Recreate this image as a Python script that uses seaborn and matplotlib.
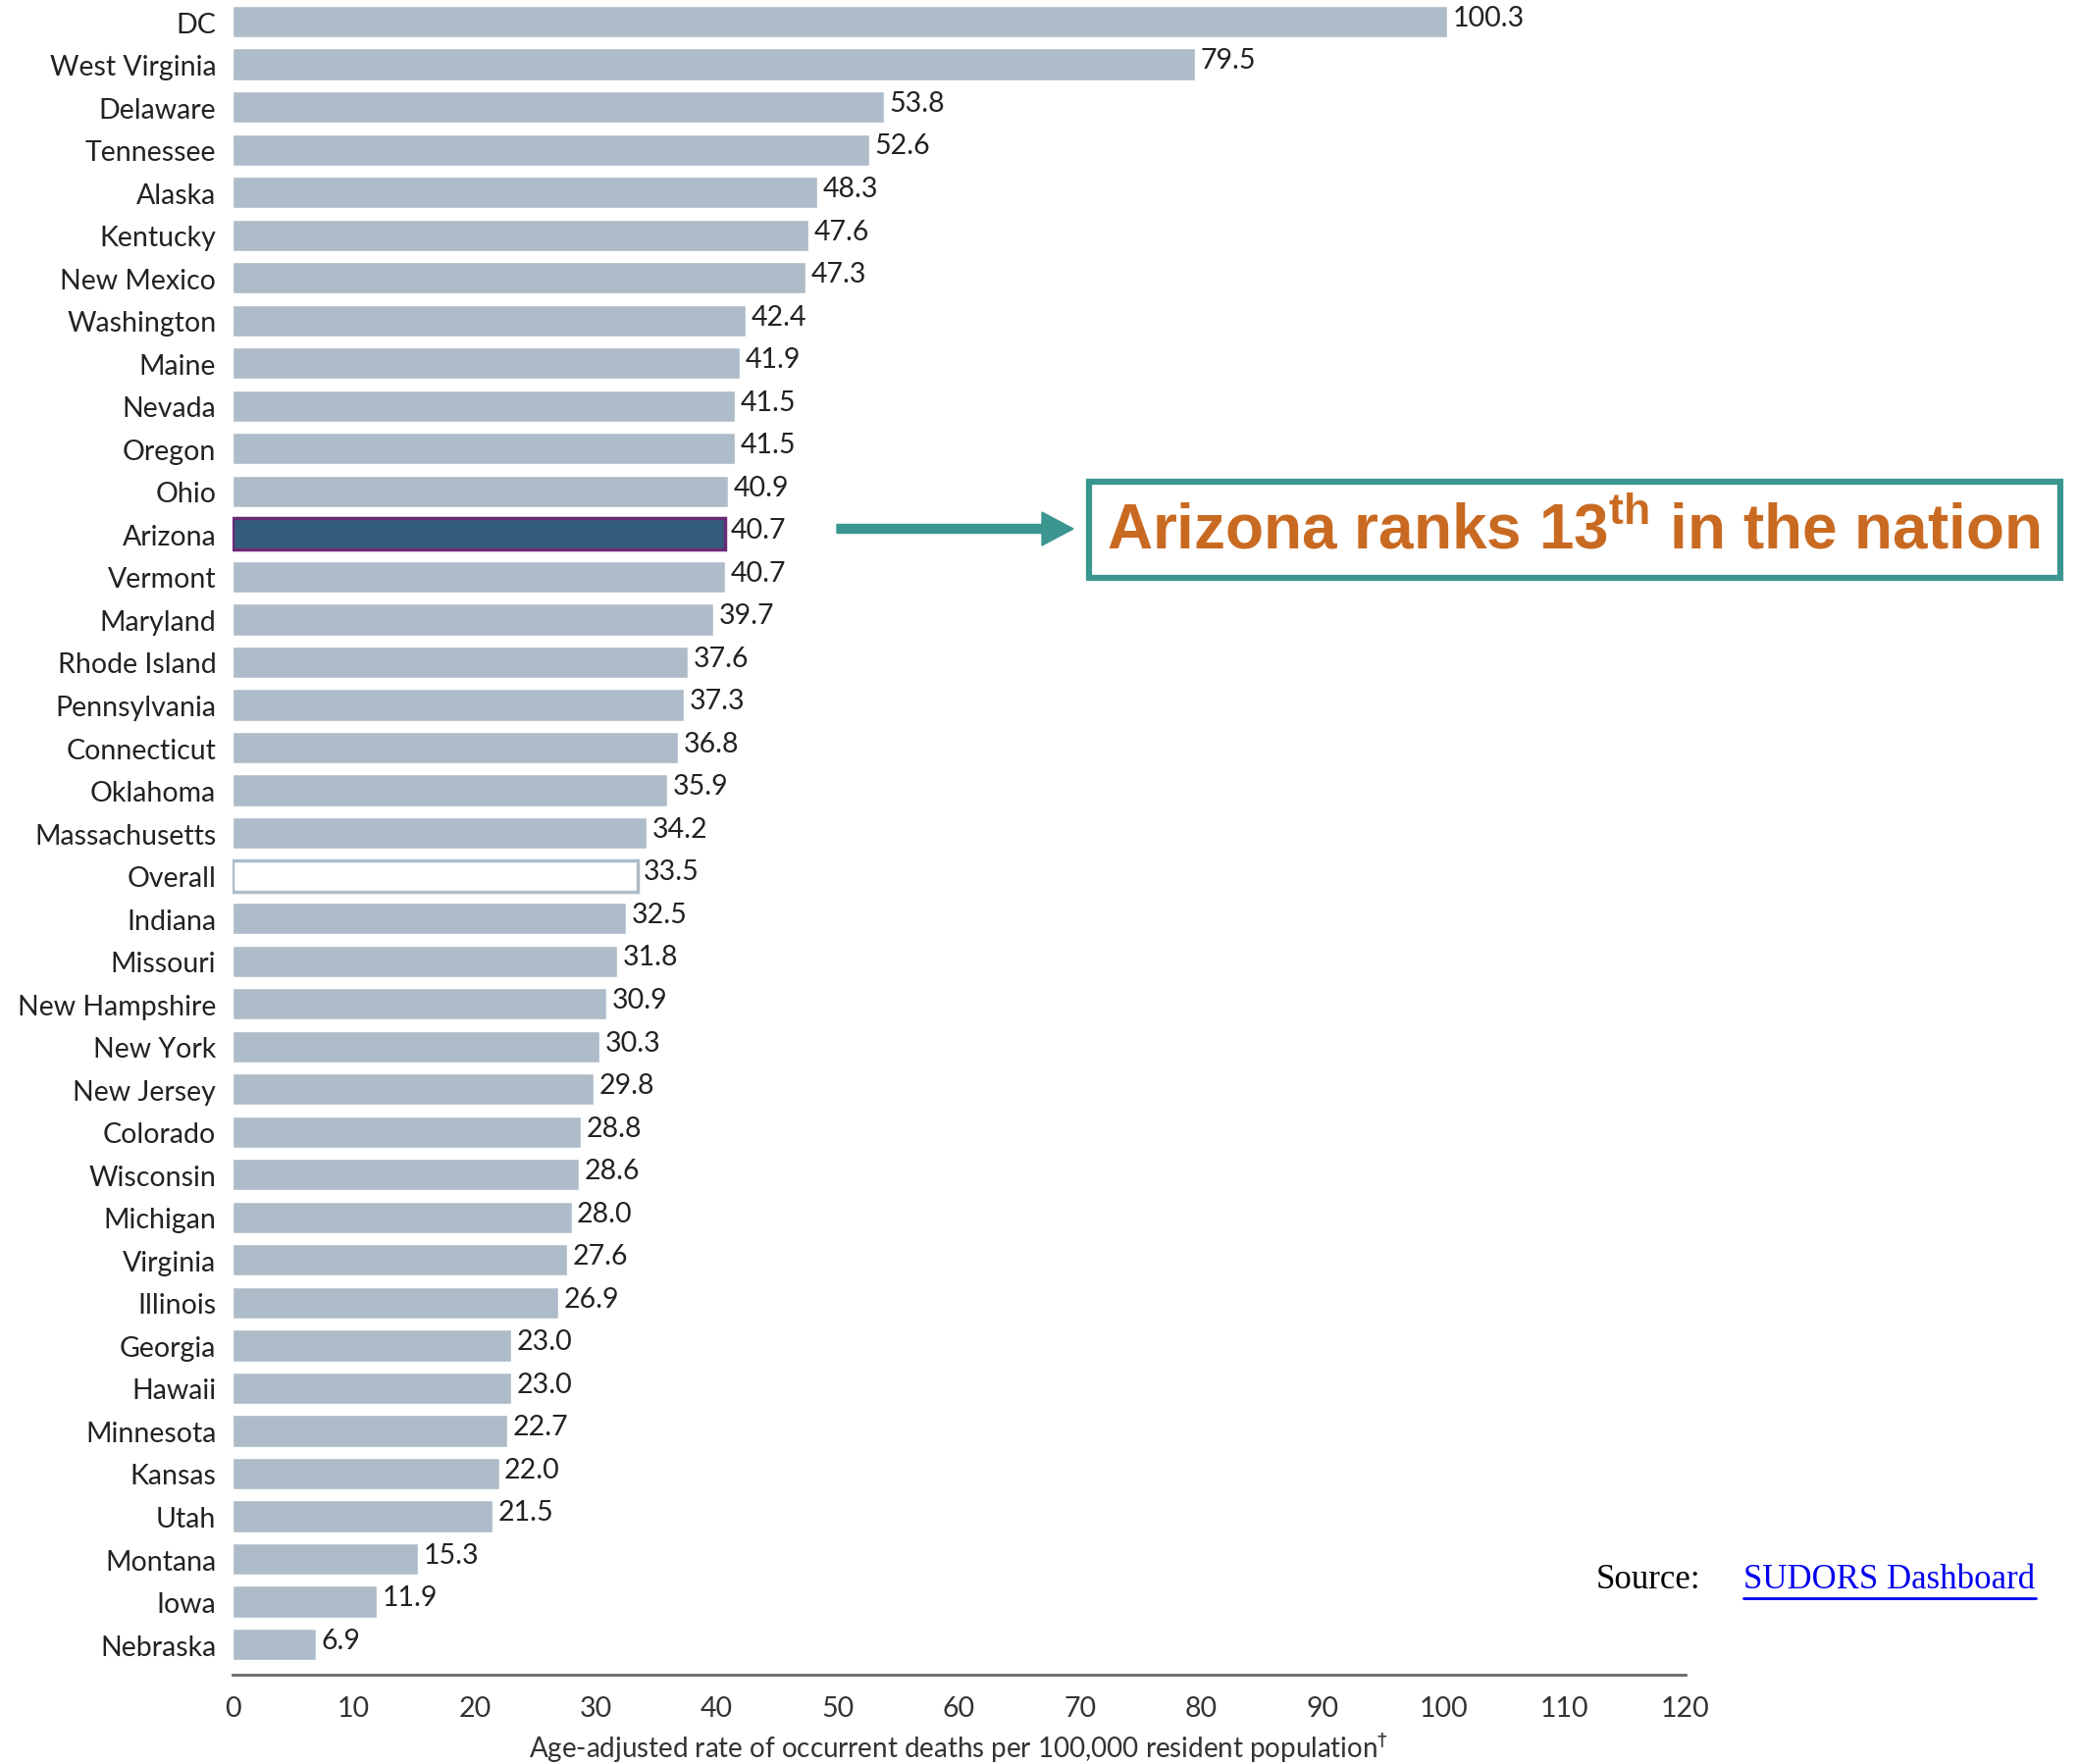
import seaborn as sns
import matplotlib.pyplot as plt
import pandas as pd

states = ['DC', 'West Virginia', 'Delaware', 'Tennessee', 'Alaska', 'Kentucky',
          'New Mexico', 'Washington', 'Maine', 'Nevada', 'Oregon', 'Ohio',
          'Arizona', 'Vermont', 'Maryland', 'Rhode Island', 'Pennsylvania',
          'Connecticut', 'Oklahoma', 'Massachusetts', 'Overall', 'Indiana',
          'Missouri', 'New Hampshire', 'New York', 'New Jersey', 'Colorado',
          'Wisconsin', 'Michigan', 'Virginia', 'Illinois', 'Georgia', 'Hawaii',
          'Minnesota', 'Kansas', 'Utah', 'Montana', 'Iowa', 'Nebraska']
rates = [100.3, 79.5, 53.8, 52.6, 48.3, 47.6, 47.3, 42.4, 41.9, 41.5, 41.5, 40.9,
         40.7, 40.7, 39.7, 37.6, 37.3, 36.8, 35.9, 34.2, 33.5, 32.5, 31.8, 30.9,
         30.3, 29.8, 28.8, 28.6, 28.0, 27.6, 26.9, 23.0, 23.0, 22.7, 22.0, 21.5,
         15.3, 11.9, 6.9]
x_ticks = [0, 10, 20, 30, 40, 50, 60, 70, 80, 90, 100, 110, 120]

df = pd.DataFrame({'state': states, 'rate': rates})

sns.set_style('white')
plt.rcParams['font.family'] = ['Lato', 'DejaVu Sans']

bar_col = '#adbcc8'
fig = plt.figure(figsize=(21.17, 17.99), dpi=100)
ax = fig.add_axes([237 / 2117, 1 - 1708 / 1799, (1718 - 237) / 2117, 1708 / 1799])

sns.barplot(data=df, x='rate', y='state', orient='h', color=bar_col,
            width=0.74, saturation=1, ax=ax)

# highlight Arizona and outline the national figure
for p, s in zip(ax.patches, states):
    if s == 'Arizona':
        p.set_facecolor('#335c7a')
        p.set_edgecolor('#6b2a75')
        p.set_linewidth(2.5)
    elif s == 'Overall':
        p.set_facecolor('white')
        p.set_edgecolor(bar_col)
        p.set_linewidth(2.5)

for i, v in enumerate(rates):
    ax.annotate(f'{v:.1f}', (v, i), xytext=(4, 3), textcoords='offset points',
                ha='left', va='center', fontsize=20.5, color='#222222')

ax.set_xlim(0, 120)
ax.set_ylim(38.71, -0.53)
ax.set_xticks(x_ticks)
ax.tick_params(axis='x', length=0, pad=15, labelsize=20.5, labelcolor='#333333')
ax.tick_params(axis='y', length=0, pad=12, labelsize=20.5, labelcolor='#222222')
ax.set_ylabel('')
ax.set_xlabel('Age-adjusted rate of occurrent deaths per 100,000 resident population$^{\u2020}$',
              fontsize=20, color='#333333', labelpad=7)
for side in ['top', 'right', 'left']:
    ax.spines[side].set_visible(False)
ax.spines['bottom'].set_color('#666666')
ax.spines['bottom'].set_linewidth(2)

# callout
fig.patches.append(plt.Rectangle((1110 / 2117, 1 - 590 / 1799), (2100 - 1110) / 2117,
                                 (590 - 492) / 1799, transform=fig.transFigure,
                                 fill=False, edgecolor='#3a968f', linewidth=4.5))
fig.text(1128 / 2117, 1 - 542 / 1799, 'Arizona ranks 13$^{\\mathregular{th}}$ in the nation',
         fontsize=46, fontweight='bold', color='#c96a22', va='center', ha='left',
         family=['Liberation Sans Narrow', 'Liberation Sans'])
fig.add_artist(plt.matplotlib.patches.FancyArrow(
    853 / 2117, 1 - 540 / 1799, (1094 - 853) / 2117, 0, width=9 / 1799,
    head_width=34 / 1799, head_length=32 / 2117, length_includes_head=True,
    transform=fig.transFigure, color='#3a968f'))

fig.text(1627 / 2117, 1 - 1611 / 1799, 'Source:', fontsize=25, color='black',
         va='center', ha='left', family='Liberation Serif')
fig.text(1777 / 2117, 1 - 1611 / 1799, 'SUDORS Dashboard', fontsize=25, color='#0000ee',
         va='center', ha='left', family='Liberation Serif')
fig.add_artist(plt.Line2D([1777 / 2117, 2075 / 2117], [1 - 1630 / 1799] * 2,
                          transform=fig.transFigure, color='#0000ee', linewidth=2))

fig.savefig('out.png', dpi=100)
